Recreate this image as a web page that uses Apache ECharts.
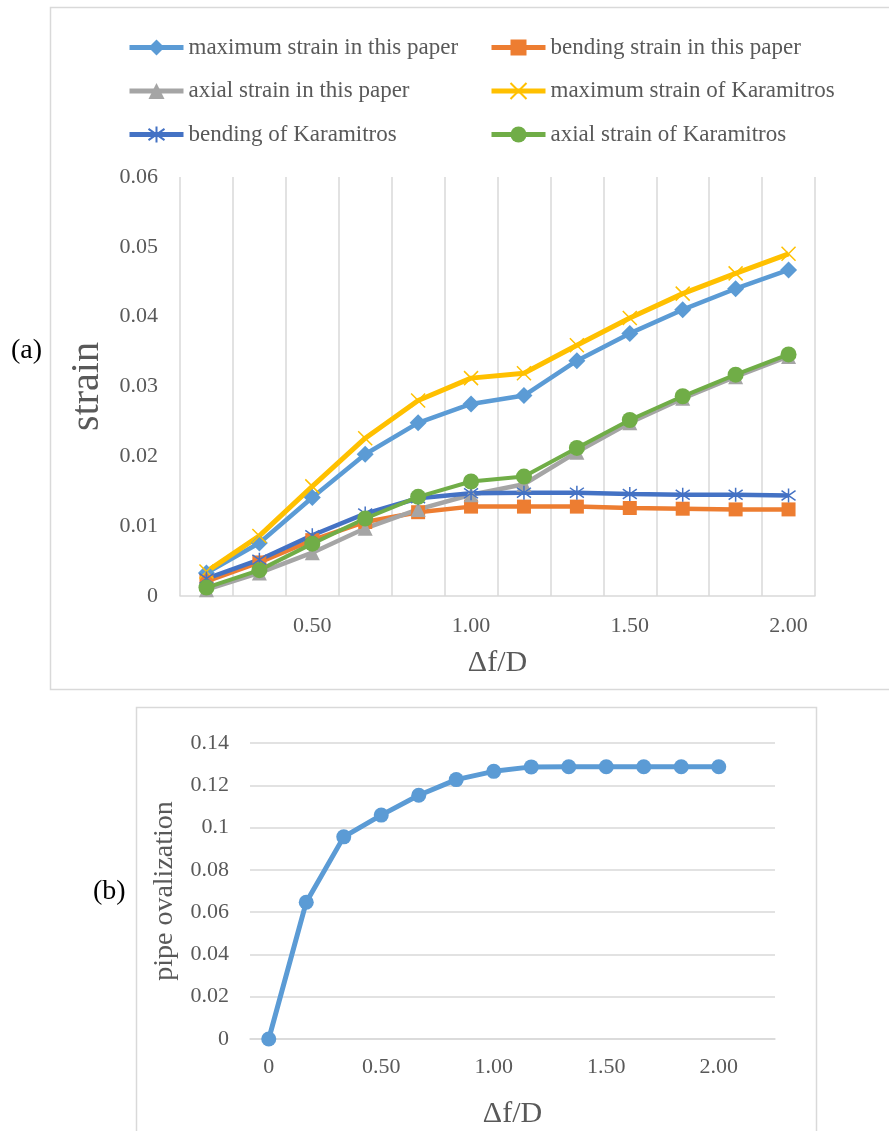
<!DOCTYPE html>
<html>
<head>
<meta charset="utf-8">
<script src="https://cdn.jsdelivr.net/npm/echarts@6/dist/echarts.min.js"></script>
<style>
html,body{margin:0;padding:0;background:#fff;}
#c{width:889px;height:1131px;}
</style>
</head>
<body>
<div id="c"></div>
<script>
// ---- data: chart (a) ----
const categoriesA = ['0.17','0.33','0.50','0.67','0.83','1.00','1.17','1.33','1.50','1.67','1.83','2.00'];
const yTicksA = ['0','0.01','0.02','0.03','0.04','0.05','0.06'];
const maxPaper   = [0.0033,0.0076,0.0141,0.0203,0.0248,0.0275,0.0287,0.0337,0.0376,0.0410,0.0440,0.0467];
const bendPaper  = [0.0021,0.0048,0.0080,0.0106,0.0120,0.0128,0.0128,0.0128,0.0126,0.0125,0.0124,0.0124];
const axialPaper = [0.0009,0.0033,0.0062,0.0097,0.0124,0.0145,0.0160,0.0206,0.0248,0.0283,0.0314,0.0343];
const maxKara    = [0.0035,0.0086,0.0157,0.0226,0.0280,0.0312,0.0319,0.0359,0.0398,0.0433,0.0462,0.0490];
const bendKara   = [0.0025,0.0052,0.0087,0.0118,0.0140,0.0147,0.0148,0.0148,0.0146,0.0145,0.0145,0.0144];
const axialKara  = [0.0012,0.0037,0.0075,0.0111,0.0142,0.0164,0.0171,0.0212,0.0252,0.0286,0.0317,0.0346];
// ---- data: chart (b) ----
const categoriesB = ['0','0.17','0.33','0.50','0.67','0.83','1.00','1.17','1.33','1.50','1.67','1.83','2.00',''];
const yTicksB = ['0','0.02','0.04','0.06','0.08','0.1','0.12','0.14'];
const ovalization = [0,0.0647,0.0956,0.1059,0.1153,0.1227,0.1266,0.1287,0.1288,0.1288,0.1288,0.1288,0.1288];

const FONT = "'Liberation Serif', 'Times New Roman', serif";
const TXT = '#595959';
const GRID = '#d9d9d9';

const chart = echarts.init(document.getElementById('c'), null, {renderer:'canvas'});

function lineSeries(name, data, color, symbol, size, width, extraItem) {
  return {
    name, type:'line', data, xAxisIndex:0, yAxisIndex:0,
    symbol, symbolSize:size, symbolKeepAspect:true,
    lineStyle:{color, width},
    itemStyle:Object.assign({color}, extraItem || {}),
    emphasis:{disabled:true},
    animation:false
  };
}
const crossPath = 'path://M0,0L10,10M10,0L0,10';
const starPath = 'path://M5,0L5,10M0,1.5L10,8.5M10,1.5L0,8.5';

const legendBase = {
  top:31, orient:'vertical', itemGap:20.5, itemWidth:54, itemHeight:20,
  lineStyle:{width:5},
  textStyle:{fontFamily:FONT, fontSize:23, color:TXT, lineHeight:22}
};

const option = {
  animation:false,
  textStyle:{fontFamily:FONT},
  graphic:[
    {type:'rect', shape:{x:50.5,y:7.5,width:900,height:682}, style:{fill:'none',stroke:GRID,lineWidth:1.5}, silent:true},
    {type:'rect', shape:{x:136.5,y:707.5,width:680,height:500}, style:{fill:'none',stroke:GRID,lineWidth:1.5}, silent:true},
    {type:'text', left:11, top:337, style:{text:'(a)', font:"28px 'Liberation Serif'", fill:'#000'}},
    {type:'text', left:93, top:878, style:{text:'(b)', font:"28px 'Liberation Serif'", fill:'#000'}}
  ],
  legend:[
    Object.assign({left:122, data:['maximum strain in this paper','axial strain in this paper','bending of Karamitros']}, legendBase),
    Object.assign({left:484, data:['bending strain in this paper','maximum strain of Karamitros','axial strain of Karamitros']}, legendBase)
  ],
  grid:[
    {left:180, top:177, width:635, height:419},
    {left:250, top:743, width:525, height:296}
  ],
  xAxis:[
    {
      type:'category', gridIndex:0, data:categoriesA, boundaryGap:true,
      axisLine:{show:true, lineStyle:{color:GRID, width:1.5}},
      axisTick:{show:false},
      splitLine:{show:true, interval:0, lineStyle:{color:GRID, width:1.5}},
      axisLabel:{interval:function(i){return i%3===2;}, fontFamily:FONT, fontSize:22, color:TXT, margin:19},
      name:'Δf/D', nameLocation:'middle', nameGap:52,
      nameTextStyle:{fontFamily:FONT, fontSize:30, color:TXT}
    },
    {
      type:'category', gridIndex:1, data:categoriesB, boundaryGap:true,
      axisLine:{show:true, lineStyle:{color:GRID, width:1.5}},
      axisTick:{show:false},
      splitLine:{show:false},
      axisLabel:{interval:function(i){return i%3===0 && i<=12;}, fontFamily:FONT, fontSize:22, color:TXT, margin:17},
      name:'Δf/D', nameLocation:'middle', nameGap:60,
      nameTextStyle:{fontFamily:FONT, fontSize:30, color:TXT}
    }
  ],
  yAxis:[
    {
      type:'value', gridIndex:0, min:0, max:0.06, interval:0.01,
      axisLine:{show:false}, axisTick:{show:false}, splitLine:{show:false},
      axisLabel:{formatter:function(v){return yTicksA[Math.round(v/0.01)];}, fontFamily:FONT, fontSize:22, color:TXT, margin:22},
      name:'strain', nameLocation:'middle', nameGap:73,
      nameTextStyle:{fontFamily:FONT, fontSize:40, color:TXT}
    },
    {
      type:'value', gridIndex:1, min:0, max:0.14, interval:0.02,
      axisLine:{show:false}, axisTick:{show:false},
      splitLine:{show:true, lineStyle:{color:GRID, width:1.5}},
      axisLabel:{formatter:function(v){return yTicksB[Math.round(v/0.02)];}, fontFamily:FONT, fontSize:22, color:TXT, margin:21},
      name:'pipe ovalization', nameLocation:'middle', nameGap:71,
      nameTextStyle:{fontFamily:FONT, fontSize:28, color:TXT}
    }
  ],
  series:[
    lineSeries('maximum strain in this paper', maxPaper, '#5B9BD5', 'diamond', 17, 4.5),
    lineSeries('bending strain in this paper', bendPaper, '#ED7D31', 'rect', 14, 4.5),
    lineSeries('axial strain in this paper', axialPaper, '#A5A5A5', 'triangle', 15, 4.5),
    lineSeries('maximum strain of Karamitros', maxKara, '#FFC000', crossPath, 14, 5, {borderColor:'#FFC000', borderWidth:1.5}),
    lineSeries('bending of Karamitros', bendKara, '#4472C4', starPath, 14, 4.5, {borderColor:'#4472C4', borderWidth:1.5}),
    lineSeries('axial strain of Karamitros', axialKara, '#70AD47', 'circle', 16, 4),
    {
      name:'pipe ovalization', type:'line', data:ovalization, xAxisIndex:1, yAxisIndex:1,
      symbol:'circle', symbolSize:15, lineStyle:{color:'#5B9BD5', width:5},
      itemStyle:{color:'#5B9BD5'}, emphasis:{disabled:true}, animation:false
    }
  ]
};
chart.setOption(option);
</script>
</body>
</html>
